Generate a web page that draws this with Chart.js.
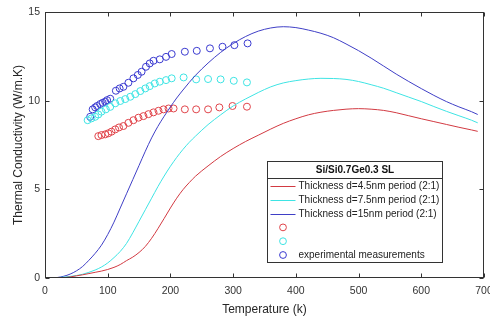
<!DOCTYPE html>
<html>
<head>
<meta charset="utf-8">
<script src="https://cdn.jsdelivr.net/npm/chart.js@4.4.1/dist/chart.umd.min.js"></script>
<style>
  html, body { margin: 0; padding: 0; background: #fff; overflow: hidden; }
  #wrap { width: 490px; height: 320px; overflow: hidden; }
</style>
</head>
<body>
<div id="wrap"><canvas id="chart" width="500" height="320"></canvas></div>
<script>
// model curves (temperature in K, conductivity in W/m.K)
var modelTemps = [10, 20, 30, 40, 50, 60, 70, 80, 90, 100, 110, 120, 130, 140, 150, 160, 170, 180, 190, 200,
  210, 220, 230, 240, 260, 280, 300, 320, 340, 360, 380, 400, 420, 440, 460, 480, 500, 520, 540, 560,
  580, 600, 620, 640, 660, 680, 690];
var model4p5 = [0, 0, 0.02, 0.06, 0.12, 0.18, 0.25, 0.32, 0.39, 0.48, 0.6, 0.76, 0.98, 1.18, 1.44, 1.78, 2.24, 2.78, 3.36, 3.95,
  4.5, 4.98, 5.38, 5.74, 6.32, 6.85, 7.3, 7.7, 8.05, 8.4, 8.72, 8.98, 9.2, 9.35, 9.45, 9.52, 9.55, 9.52, 9.45, 9.32,
  9.15, 8.98, 8.82, 8.66, 8.5, 8.35, 8.27];
var model7p5 = [0, 0.02, 0.05, 0.09, 0.14, 0.21, 0.32, 0.45, 0.62, 0.85, 1.15, 1.5, 1.95, 2.55, 3.2, 3.85, 4.5, 5.15, 5.75, 6.3,
  6.8, 7.25, 7.65, 8.0, 8.65, 9.2, 9.7, 10.1, 10.46, 10.78, 11.0, 11.13, 11.22, 11.26, 11.25, 11.2, 11.08, 10.9, 10.7, 10.45,
  10.2, 9.95, 9.67, 9.4, 9.15, 8.9, 8.75];
var model15 = [0, 0.03, 0.1, 0.22, 0.4, 0.65, 1.0, 1.39, 1.85, 2.45, 3.15, 3.95, 4.75, 5.55, 6.35, 7.15, 7.9, 8.55, 9.12, 9.65,
  10.15, 10.6, 11.03, 11.43, 12.12, 12.72, 13.22, 13.62, 13.92, 14.1, 14.17, 14.12, 13.98, 13.8, 13.55, 13.2, 12.82, 12.4, 11.95, 11.5,
  11.08, 10.68, 10.3, 9.95, 9.65, 9.38, 9.22];

// experimental measurements
var expTempsRed = [85, 90, 96, 101, 106, 112, 118, 125, 133, 141, 149, 157, 165, 173, 181, 189, 197, 205, 223, 241, 260, 278, 299, 322];
var expRed = [8.0, 8.06, 8.1, 8.16, 8.25, 8.38, 8.49, 8.57, 8.75, 8.9, 9.04, 9.13, 9.24, 9.34, 9.43, 9.51, 9.56, 9.56, 9.51, 9.51, 9.51, 9.62, 9.7, 9.66];
var expTempsCyan = [68, 74, 80, 85, 90, 97, 104, 112, 120, 128, 136, 144, 152, 160, 167, 175, 183, 193, 202, 221, 241, 260, 280, 301, 322];
var expCyan = [8.9, 9.0, 9.09, 9.22, 9.38, 9.51, 9.65, 9.85, 9.98, 10.09, 10.22, 10.37, 10.54, 10.69, 10.82, 10.97, 11.07, 11.16, 11.26, 11.31, 11.2, 11.22, 11.2, 11.12, 11.03];
var expTempsBlue = [72, 76, 80, 83, 88, 92, 96, 99, 104, 113, 119, 125, 133, 141, 148, 154, 161, 167, 173, 183, 193, 202, 223, 242, 263, 283, 302, 323];
var expBlue = [9.09, 9.51, 9.62, 9.7, 9.81, 9.88, 9.94, 10.03, 10.11, 10.56, 10.69, 10.78, 11.01, 11.26, 11.45, 11.63, 11.91, 12.1, 12.25, 12.33, 12.47, 12.63, 12.76, 12.81, 12.95, 13.04, 13.13, 13.23];

var xTicks = [0, 100, 200, 300, 400, 500, 600, 700];
var yTicks = [0, 5, 10, 15];

var legendTitle = 'Si/Si0.7Ge0.3 SL';
var redColor = '#d23a42';
var cyanColor = '#3ee4e4';
var blueColor = '#3f3fc6';
var axisColor = '#333333';
var fontFamily = '"Liberation Sans", Arial, Helvetica, sans-serif';

function pairs(xs, ys) {
  var out = [];
  for (var i = 0; i < xs.length; i++) out.push({ x: xs[i], y: ys[i] });
  return out;
}

function lineSet(label, data, color) {
  return {
    label: label, data: data, borderColor: color, backgroundColor: color,
    borderWidth: 1, pointRadius: 0, fill: false, cubicInterpolationMode: 'monotone'
  };
}

function markerSet(label, data, color) {
  return {
    label: label, data: data, borderColor: color, backgroundColor: 'rgba(0,0,0,0)',
    showLine: false, pointRadius: 3.5, pointBorderWidth: 1, pointStyle: 'circle'
  };
}

// frame with inward tick marks on all four sides
var frameTicks = {
  id: 'frameTicks',
  afterDatasetsDraw: function (chart) {
    var a = chart.chartArea, ctx = chart.ctx;
    var sx = chart.scales.x, sy = chart.scales.y;
    var L = Math.round(a.left) + 0.5, R = Math.round(a.right) - 0.5;
    var T = Math.round(a.top) + 0.5, B = Math.round(a.bottom) - 0.5;
    ctx.save();
    ctx.strokeStyle = axisColor;
    ctx.lineWidth = 1;
    ctx.strokeRect(L, T, R - L, B - T);
    ctx.beginPath();
    xTicks.forEach(function (v) {
      var p = Math.round(sx.getPixelForValue(v)) + 0.5;
      ctx.moveTo(p, B); ctx.lineTo(p, B - 4);
      ctx.moveTo(p, T); ctx.lineTo(p, T + 4);
    });
    yTicks.forEach(function (v) {
      var p = Math.round(sy.getPixelForValue(v)) + 0.5;
      ctx.moveTo(L, p); ctx.lineTo(L + 4, p);
      ctx.moveTo(R, p); ctx.lineTo(R - 4, p);
    });
    ctx.stroke();
    ctx.restore();
  }
};

// legend box drawn inside the plot, lower right
var boxLegend = {
  id: 'boxLegend',
  afterDraw: function (chart) {
    var a = chart.chartArea, ctx = chart.ctx;
    var left = Math.round(a.right) - 216.5, right = Math.round(a.right) - 41.5;
    var top = 161.5, bottom = 262.5;
    ctx.save();
    ctx.fillStyle = '#fff';
    ctx.fillRect(left, top, right - left, bottom - top);
    ctx.strokeStyle = axisColor;
    ctx.lineWidth = 1;
    ctx.strokeRect(left, top, right - left, bottom - top);
    ctx.beginPath();
    ctx.moveTo(left, 178.5); ctx.lineTo(right, 178.5);
    ctx.stroke();

    ctx.fillStyle = '#111';
    ctx.textBaseline = 'middle';
    ctx.textAlign = 'center';
    ctx.font = 'bold 10px ' + fontFamily;
    ctx.fillText(legendTitle, (left + right) / 2, 170.5);

    ctx.textAlign = 'left';
    ctx.font = '10px ' + fontFamily;
    chart.data.datasets.forEach(function (ds, i) {
      var yy = 186 + i * 13.8;
      ctx.strokeStyle = ds.borderColor;
      ctx.lineWidth = 1;
      ctx.beginPath();
      if (ds.showLine === false) {
        ctx.arc(left + 15.5, yy, 3.4, 0, Math.PI * 2);
      } else {
        ctx.moveTo(left + 3, Math.round(yy) + 0.5);
        ctx.lineTo(left + 28, Math.round(yy) + 0.5);
      }
      ctx.stroke();
      if (ds.label) {
        ctx.fillStyle = '#222';
        ctx.fillText(ds.label, left + 31, yy + 0.5);
      }
    });
    ctx.restore();
  }
};

var ctx = document.getElementById('chart').getContext('2d');
var chart = new Chart(ctx, {
  type: 'line',
  data: {
    datasets: [
      lineSet('Thickness d=4.5nm period (2:1)', pairs(modelTemps, model4p5), redColor),
      lineSet('Thickness d=7.5nm period (2:1)', pairs(modelTemps, model7p5), cyanColor),
      lineSet('Thickness d=15nm period (2:1)', pairs(modelTemps, model15), blueColor),
      markerSet('', pairs(expTempsRed, expRed), '#e0444a'),
      markerSet('', pairs(expTempsCyan, expCyan), cyanColor),
      markerSet('experimental measurements', pairs(expTempsBlue, expBlue), '#3a3ad0')
    ]
  },
  options: {
    responsive: false,
    animation: false,
    layout: { padding: { left: 0, right: 16, top: 12, bottom: 0 } },
    plugins: { legend: { display: false }, tooltip: { enabled: false } },
    scales: {
      x: {
        type: 'linear', min: 0, max: 700,
        afterFit: function (s) { s.height = 42; },
        afterBuildTicks: function (s) { s.ticks = xTicks.map(function (v) { return { value: v }; }); },
        grid: { display: false, drawTicks: false },
        border: { display: false },
        ticks: { color: '#333', padding: 7, font: { family: fontFamily, size: 10.5 } },
        title: {
          display: true, text: 'Temperature (k)', color: '#262626',
          padding: { top: 0, bottom: 3 }, font: { family: fontFamily, size: 12 }
        }
      },
      y: {
        type: 'linear', min: 0, max: 15,
        afterFit: function (s) { s.width = 45; },
        afterBuildTicks: function (s) { s.ticks = yTicks.map(function (v) { return { value: v }; }); },
        grid: { display: false, drawTicks: false },
        border: { display: false },
        ticks: { color: '#333', padding: 5, font: { family: fontFamily, size: 10.5 } },
        title: {
          display: true, text: 'Thermal Conductivity (W/m.K)', color: '#262626',
          padding: { top: 11, bottom: 0 }, font: { family: fontFamily, size: 12 }
        }
      }
    }
  },
  plugins: [frameTicks, boxLegend]
});
</script>
</body>
</html>
